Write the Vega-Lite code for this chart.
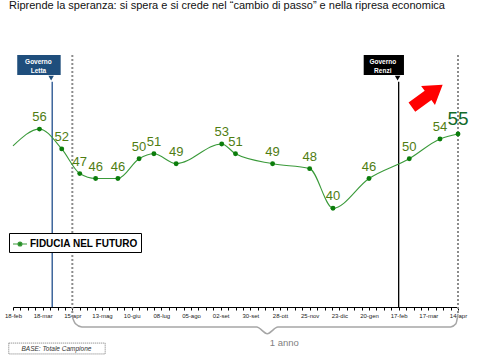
{
  "$schema": "https://vega.github.io/schema/vega-lite/v6.json",
  "width": 445,
  "height": 252,
  "autosize": {"type": "none"},
  "padding": {"left": 13, "top": 55, "right": 22, "bottom": 53},
  "background": "#ffffff",
  "config": {"view": {"stroke": null}, "font": "Liberation Sans", "axisY": {"disable": true}},
  "title": {
    "text": "Ripresa della FIDUCIA nel futuro",
    "subtitle": "Riprende la speranza: si spera e si crede nel \u201ccambio  di passo\u201d  e nella ripresa economica",
    "anchor": "start",
    "frame": "group",
    "dx": -4,
    "offset": 14,
    "fontSize": 13.5,
    "fontWeight": "bold",
    "color": "#1a1a1a",
    "subtitleFontSize": 11,
    "subtitleColor": "#111111",
    "subtitlePadding": 3
  },
  "data": {"name": "all"},
  "datasets": {
    "all": [
      {"kind": "series", "date": "2013-02-18", "value": 52.6, "start": true, "series": "FIDUCIA NEL FUTURO"},
      {"kind": "series", "date": "2013-03-15", "value": 56, "start": false, "series": "FIDUCIA NEL FUTURO"},
      {"kind": "series", "date": "2013-04-05", "value": 52, "start": false, "series": "FIDUCIA NEL FUTURO"},
      {"kind": "series", "date": "2013-04-22", "value": 47, "start": false, "series": "FIDUCIA NEL FUTURO"},
      {"kind": "series", "date": "2013-05-07", "value": 46, "start": false, "series": "FIDUCIA NEL FUTURO"},
      {"kind": "series", "date": "2013-05-28", "value": 46, "start": false, "series": "FIDUCIA NEL FUTURO"},
      {"kind": "series", "date": "2013-06-17", "value": 50, "start": false, "series": "FIDUCIA NEL FUTURO"},
      {"kind": "series", "date": "2013-07-01", "value": 51, "start": false, "series": "FIDUCIA NEL FUTURO"},
      {"kind": "series", "date": "2013-07-22", "value": 49, "start": false, "series": "FIDUCIA NEL FUTURO"},
      {"kind": "series", "date": "2013-09-03", "value": 53, "start": false, "series": "FIDUCIA NEL FUTURO"},
      {"kind": "series", "date": "2013-09-16", "value": 51, "start": false, "series": "FIDUCIA NEL FUTURO"},
      {"kind": "series", "date": "2013-10-21", "value": 49, "start": false, "series": "FIDUCIA NEL FUTURO"},
      {"kind": "series", "date": "2013-11-25", "value": 48, "start": false, "series": "FIDUCIA NEL FUTURO"},
      {"kind": "series", "date": "2013-12-17", "value": 40, "start": false, "series": "FIDUCIA NEL FUTURO"},
      {"kind": "series", "date": "2014-01-20", "value": 46, "start": false, "series": "FIDUCIA NEL FUTURO"},
      {"kind": "series", "date": "2014-02-27", "value": 50, "start": false, "series": "FIDUCIA NEL FUTURO"},
      {"kind": "series", "date": "2014-03-28", "value": 54, "start": false, "series": "FIDUCIA NEL FUTURO"},
      {"kind": "series", "date": "2014-04-14", "value": 55, "start": false, "series": "FIDUCIA NEL FUTURO"},
      {"kind": "dot1", "date": "2013-04-15", "value": 71},
      {"kind": "dot1", "date": "2013-04-15", "value": 17.8},
      {"kind": "dot2", "date": "2014-04-14", "value": 71},
      {"kind": "dot2", "date": "2014-04-14", "value": 18.6},
      {"kind": "letta", "date": "2013-03-27", "value": 65.6},
      {"kind": "letta", "date": "2013-03-27", "value": 20},
      {"kind": "renzi", "date": "2014-02-17", "value": 65.6},
      {"kind": "renzi", "date": "2014-02-17", "value": 20},
      {"kind": "lettabox", "date": "2013-02-22", "value": 69},
      {"kind": "lettabox", "date": "2013-04-04", "value": 69},
      {"kind": "renzibox", "date": "2014-01-15", "value": 69},
      {"kind": "renzibox", "date": "2014-02-22", "value": 69},
      {"kind": "lettatail", "date": "2013-03-26", "value": 66.3},
      {"kind": "renzitail", "date": "2014-02-16", "value": 66.3},
      {"kind": "govtext", "date": "2013-03-14", "value": 69.6, "label": "Governo"},
      {"kind": "govtext", "date": "2013-03-14", "value": 67.8, "label": "Letta"},
      {"kind": "govtext", "date": "2014-02-02", "value": 69.6, "label": "Governo"},
      {"kind": "govtext", "date": "2014-02-02", "value": 67.8, "label": "Renzi"},
      {"kind": "brace", "date": "2013-04-15", "value": 18.0},
      {"kind": "brace", "date": "2013-04-18", "value": 16.6},
      {"kind": "brace", "date": "2013-04-24", "value": 15.95},
      {"kind": "brace", "date": "2013-10-06", "value": 15.95},
      {"kind": "brace", "date": "2013-10-16", "value": 14.6},
      {"kind": "brace", "date": "2013-10-26", "value": 15.95},
      {"kind": "brace", "date": "2014-04-07", "value": 15.95},
      {"kind": "brace", "date": "2014-04-12", "value": 16.6},
      {"kind": "brace", "date": "2014-04-14", "value": 18.6},
      {"kind": "anno", "date": "2013-11-01", "value": 12.7, "label": "1 anno"},
      {"kind": "basebox", "date": "2013-02-14", "value": 12.7, "order": 1},
      {"kind": "basebox", "date": "2013-05-16", "value": 12.7, "order": 2},
      {"kind": "basebox", "date": "2013-05-16", "value": 10.5, "order": 3},
      {"kind": "basebox", "date": "2013-02-14", "value": 10.5, "order": 4},
      {"kind": "basebox", "date": "2013-02-14", "value": 12.7, "order": 5},
      {"kind": "base", "date": "2013-03-31", "value": 11.6, "label": "BASE: Totale Campione"},
      {"kind": "arrow", "date": "2014-03-16", "value": 62.7}
    ]
  },
  "encoding": {
    "x": {
      "field": "date",
      "type": "temporal",
      "scale": {"type": "utc", "domain": [{"year": 2013, "month": 2, "date": 18, "utc": true}, {"year": 2014, "month": 4, "date": 14, "utc": true}]},
      "axis": {
        "title": null,
        "grid": false,
        "domainColor": "#000000",
        "tickColor": "#000000",
        "tickSize": 3,
        "labelFlush": false,
        "labelOverlap": false,
        "labelFontSize": 6,
        "labelColor": "#222222",
        "labelPadding": 2,
        "labelAngle": 0,
        "labelExpr": "round((datum.value - utc(2013,1,18)) / 604800000) % 4 == 0 ? utcFormat(datum.value, '%d') + '-' + ['gen','feb','mar','apr','mag','giu','lug','ago','set','ott','nov','dic'][utcmonth(datum.value)] : ''",
        "values": [
          {"year": 2013, "month": 2, "date": 18, "utc": true}, {"year": 2013, "month": 2, "date": 25, "utc": true},
          {"year": 2013, "month": 3, "date": 4, "utc": true}, {"year": 2013, "month": 3, "date": 11, "utc": true}, {"year": 2013, "month": 3, "date": 18, "utc": true}, {"year": 2013, "month": 3, "date": 25, "utc": true},
          {"year": 2013, "month": 4, "date": 1, "utc": true}, {"year": 2013, "month": 4, "date": 8, "utc": true}, {"year": 2013, "month": 4, "date": 15, "utc": true}, {"year": 2013, "month": 4, "date": 22, "utc": true}, {"year": 2013, "month": 4, "date": 29, "utc": true},
          {"year": 2013, "month": 5, "date": 6, "utc": true}, {"year": 2013, "month": 5, "date": 13, "utc": true}, {"year": 2013, "month": 5, "date": 20, "utc": true}, {"year": 2013, "month": 5, "date": 27, "utc": true},
          {"year": 2013, "month": 6, "date": 3, "utc": true}, {"year": 2013, "month": 6, "date": 10, "utc": true}, {"year": 2013, "month": 6, "date": 17, "utc": true}, {"year": 2013, "month": 6, "date": 24, "utc": true},
          {"year": 2013, "month": 7, "date": 1, "utc": true}, {"year": 2013, "month": 7, "date": 8, "utc": true}, {"year": 2013, "month": 7, "date": 15, "utc": true}, {"year": 2013, "month": 7, "date": 22, "utc": true}, {"year": 2013, "month": 7, "date": 29, "utc": true},
          {"year": 2013, "month": 8, "date": 5, "utc": true}, {"year": 2013, "month": 8, "date": 12, "utc": true}, {"year": 2013, "month": 8, "date": 19, "utc": true}, {"year": 2013, "month": 8, "date": 26, "utc": true},
          {"year": 2013, "month": 9, "date": 2, "utc": true}, {"year": 2013, "month": 9, "date": 9, "utc": true}, {"year": 2013, "month": 9, "date": 16, "utc": true}, {"year": 2013, "month": 9, "date": 23, "utc": true}, {"year": 2013, "month": 9, "date": 30, "utc": true},
          {"year": 2013, "month": 10, "date": 7, "utc": true}, {"year": 2013, "month": 10, "date": 14, "utc": true}, {"year": 2013, "month": 10, "date": 21, "utc": true}, {"year": 2013, "month": 10, "date": 28, "utc": true},
          {"year": 2013, "month": 11, "date": 4, "utc": true}, {"year": 2013, "month": 11, "date": 11, "utc": true}, {"year": 2013, "month": 11, "date": 18, "utc": true}, {"year": 2013, "month": 11, "date": 25, "utc": true},
          {"year": 2013, "month": 12, "date": 2, "utc": true}, {"year": 2013, "month": 12, "date": 9, "utc": true}, {"year": 2013, "month": 12, "date": 16, "utc": true}, {"year": 2013, "month": 12, "date": 23, "utc": true}, {"year": 2013, "month": 12, "date": 30, "utc": true},
          {"year": 2014, "month": 1, "date": 6, "utc": true}, {"year": 2014, "month": 1, "date": 13, "utc": true}, {"year": 2014, "month": 1, "date": 20, "utc": true}, {"year": 2014, "month": 1, "date": 27, "utc": true},
          {"year": 2014, "month": 2, "date": 3, "utc": true}, {"year": 2014, "month": 2, "date": 10, "utc": true}, {"year": 2014, "month": 2, "date": 17, "utc": true}, {"year": 2014, "month": 2, "date": 24, "utc": true},
          {"year": 2014, "month": 3, "date": 3, "utc": true}, {"year": 2014, "month": 3, "date": 10, "utc": true}, {"year": 2014, "month": 3, "date": 17, "utc": true}, {"year": 2014, "month": 3, "date": 24, "utc": true}, {"year": 2014, "month": 3, "date": 31, "utc": true},
          {"year": 2014, "month": 4, "date": 7, "utc": true}, {"year": 2014, "month": 4, "date": 14, "utc": true}
        ]
      }
    },
    "y": {"field": "value", "type": "quantitative", "scale": {"domain": [20, 71], "nice": false, "zero": false}, "axis": null}
  },
  "layer": [
    {
      "transform": [{"filter": "datum.kind == 'dot1'"}],
      "mark": {"type": "line", "color": "#8c8c8c", "strokeWidth": 2, "strokeDash": [2, 2]}
    },
    {
      "transform": [{"filter": "datum.kind == 'dot2'"}],
      "mark": {"type": "line", "color": "#8c8c8c", "strokeWidth": 2, "strokeDash": [2, 2]}
    },
    {
      "transform": [{"filter": "datum.kind == 'letta'"}],
      "mark": {"type": "line", "color": "#1f4e8c", "strokeWidth": 1.3}
    },
    {
      "transform": [{"filter": "datum.kind == 'renzi'"}],
      "mark": {"type": "line", "color": "#000000", "strokeWidth": 1.3}
    },
    {
      "transform": [{"filter": "datum.kind == 'lettabox'"}],
      "mark": {"type": "line", "color": "#1f4e7c", "strokeWidth": 20}
    },
    {
      "transform": [{"filter": "datum.kind == 'renzibox'"}],
      "mark": {"type": "line", "color": "#000000", "strokeWidth": 20}
    },
    {
      "transform": [{"filter": "datum.kind == 'lettatail'"}],
      "mark": {"type": "point", "shape": "triangle-down", "filled": true, "size": 30, "color": "#1f4e7c", "opacity": 1}
    },
    {
      "transform": [{"filter": "datum.kind == 'renzitail'"}],
      "mark": {"type": "point", "shape": "triangle-down", "filled": true, "size": 30, "color": "#000000", "opacity": 1}
    },
    {
      "transform": [{"filter": "datum.kind == 'govtext'"}],
      "mark": {"type": "text", "fontSize": 6.5, "fontWeight": "bold", "color": "#ffffff", "baseline": "middle"},
      "encoding": {"text": {"field": "label", "type": "nominal"}}
    },
    {
      "transform": [{"filter": "datum.kind == 'brace'"}],
      "mark": {"type": "line", "interpolate": "monotone", "color": "#a6a6a6", "strokeWidth": 1.5}
    },
    {
      "transform": [{"filter": "datum.kind == 'anno'"}],
      "mark": {"type": "text", "baseline": "middle", "fontSize": 9.5, "color": "#7f7f7f"},
      "encoding": {"text": {"field": "label", "type": "nominal"}}
    },
    {
      "transform": [{"filter": "datum.kind == 'basebox'"}],
      "mark": {"type": "line", "color": "#555555", "strokeWidth": 0.8, "strokeDash": [1, 1]},
      "encoding": {"order": {"field": "order", "type": "quantitative"}}
    },
    {
      "transform": [{"filter": "datum.kind == 'base'"}],
      "mark": {"type": "text", "baseline": "middle", "fontSize": 6.5, "fontStyle": "italic", "color": "#333333"},
      "encoding": {"text": {"field": "label", "type": "nominal"}}
    },
    {
      "transform": [{"filter": "datum.kind == 'arrow'"}],
      "mark": {"type": "point", "shape": "M-1,-0.3L0.05,-0.3L0.05,-0.62L1,0L0.05,0.62L0.05,0.3L-1,0.3Z", "filled": true, "size": 1444, "angle": -36, "color": "#ff0000", "opacity": 1}
    },
    {
      "transform": [{"filter": "datum.kind == 'series'"}],
      "mark": {"type": "line", "interpolate": "monotone", "strokeWidth": 1.1},
      "encoding": {
        "color": {
          "field": "series",
          "type": "nominal",
          "scale": {"range": ["#3a9a3a"]},
          "legend": {
            "orient": "none",
            "legendX": -4,
            "legendY": 178,
            "title": null,
            "strokeColor": "#000000",
            "fillColor": "#ffffff",
            "padding": 3,
            "symbolType": "M-1,0L1,0M-0.28,0A0.28,0.28 0 1,0 0.28,0A0.28,0.28 0 1,0 -0.28,0",
            "symbolSize": 196,
            "symbolStrokeWidth": 1.2,
            "symbolFillColor": "#0b7d0b",
            "symbolStrokeColor": "#1e8a1e",
            "labelFontWeight": "bold",
            "labelFontSize": 10,
            "labelColor": "#000000",
            "labelOffset": 2
          }
        }
      }
    },
    {
      "transform": [{"filter": "datum.kind == 'series' && !datum.start"}],
      "mark": {"type": "point", "filled": true, "size": 24, "color": "#0b7d0b", "opacity": 1}
    },
    {
      "transform": [{"filter": "datum.kind == 'series' && !datum.start"}],
      "mark": {"type": "text", "baseline": "bottom", "dy": -5},
      "encoding": {
        "text": {"field": "value", "type": "quantitative"},
        "size": {"condition": {"test": "datum.value == 55", "value": 19}, "value": 13},
        "color": {"condition": {"test": "datum.value == 55", "value": "#136b2a"}, "value": "#4f7d12"}
      }
    }
  ]
}
